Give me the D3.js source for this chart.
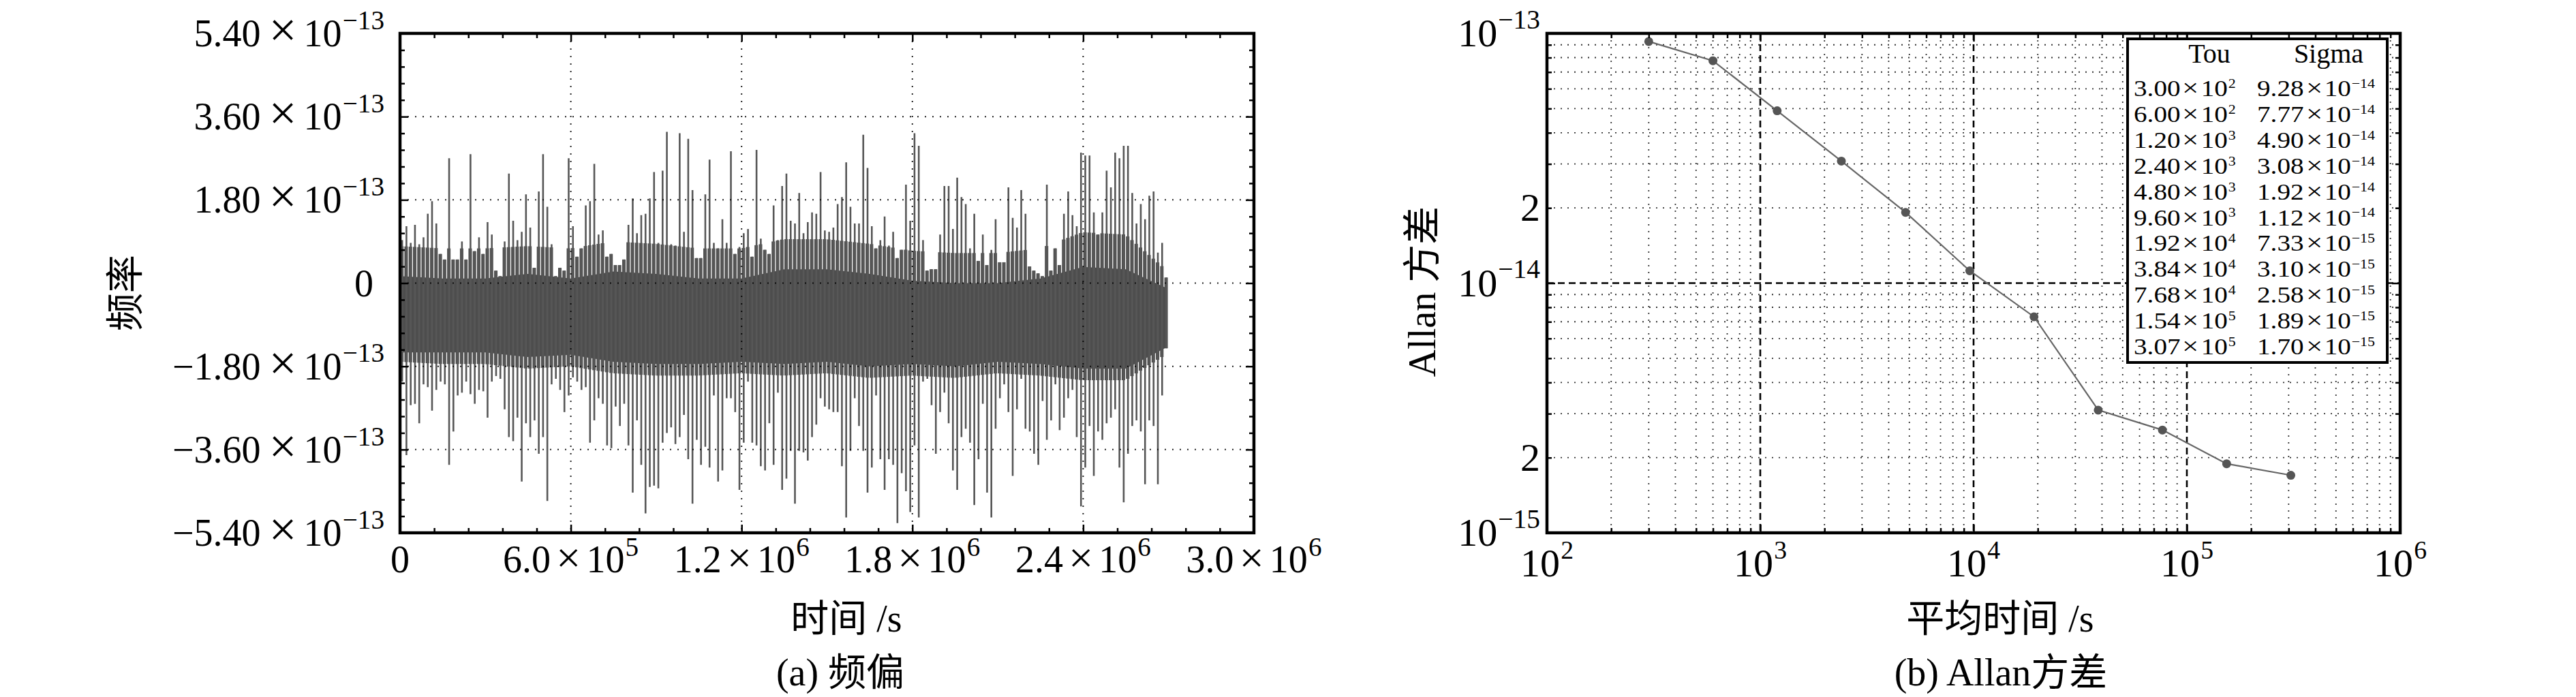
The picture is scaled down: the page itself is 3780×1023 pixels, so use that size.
<!DOCTYPE html>
<html>
<head>
<meta charset="utf-8">
<script src="https://cdn.jsdelivr.net/npm/d3@7/dist/d3.min.js"></script>
<style>
  html, body { margin:0; padding:0; background:#fff; }
  svg { display:block; }
  text { font-family: "Liberation Serif", "Noto Sans CJK SC", serif; fill:#000; }
</style>
</head>
<body>
<svg id="chart" width="3780" height="1023" xmlns="http://www.w3.org/2000/svg"></svg>
<script>
// ================= DATA =================
// (a) 频偏 : frequency offset record (units of 1e-13), extremes read per 1.5e4 s slot
const binStep = 1.5e4;
const freqHigh = [
  0.93, 1.23, 0.87, 1.26, 0.84, 0.99, 1.50, 1.77, 1.29, 0.63,
  0.51, 2.70, 0.51, 0.51, 0.90, 0.51, 2.79, 0.69, 0.99, 0.63,
  1.32, 1.05, 0.27, 0.15, 0.90, 2.37, 1.35, 0.93, 1.11, 1.92,
  1.20, 0.33, 1.98, 2.79, 1.65, 0.84, 0.15, 0.33, 0.27, 2.70,
  1.23, 0.57, 0.75, 1.68, 1.77, 2.58, 1.05, 1.14, 0.57, 0.63,
  0.39, 0.39, 0.51, 1.26, 1.83, 1.08, 1.47, 1.50, 1.83, 2.40,
  0.87, 2.43, 3.27, 0.84, 0.81, 3.24, 1.11, 3.12, 2.01, 0.54,
  0.54, 1.92, 2.67, 0.87, 0.75, 1.38, 0.87, 2.85, 0.63, 0.78,
  1.08, 1.17, 0.57, 2.88, 0.96, 0.72, 0.63, 1.68, 0.93, 2.10,
  2.37, 1.35, 1.29, 1.95, 1.08, 1.32, 1.53, 1.50, 2.40, 1.14,
  1.11, 1.20, 1.71, 1.86, 2.61, 1.65, 1.29, 1.29, 3.21, 2.49,
  1.23, 0.75, 0.93, 1.44, 0.81, 1.11, 0.54, 0.72, 2.13, 1.35,
  3.24, 2.97, 0.93, 0.27, 0.30, 0.30, 1.05, 2.10, 2.10, 1.17,
  2.28, 1.86, 1.71, 0.75, 1.50, 0.48, 1.05, 0.39, 0.72, 1.38,
  0.45, 0.45, 2.07, 1.41, 1.20, 2.01, 1.50, 0.36, 0.27, 0.21,
  0.15, 2.13, 0.27, 0.75, 0.39, 1.50, 1.98, 1.47, 1.23, 2.82,
  2.76, 2.76, 1.53, 1.05, 1.53, 2.43, 2.07, 2.82, 2.70, 2.97,
  2.97, 1.95, 1.29, 1.71, 1.38, 1.89, 1.98, 0.66, 0.87, 0.12
];
const freqLow = [
  -2.13, -3.72, -2.64, -2.61, -3.03, -2.19, -2.25, -2.76, -2.31, -2.13,
  -2.19, -3.93, -3.21, -2.43, -2.37, -2.13, -2.40, -2.61, -2.31, -2.34,
  -2.91, -2.13, -2.01, -2.07, -2.73, -3.33, -3.42, -2.91, -4.29, -3.03,
  -3.33, -2.97, -3.69, -3.33, -4.71, -2.19, -2.07, -2.31, -2.79, -2.43,
  -2.04, -2.13, -2.31, -2.25, -3.45, -2.97, -2.49, -2.61, -3.51, -3.57,
  -2.67, -3.09, -2.61, -3.51, -4.53, -2.97, -3.93, -4.98, -4.41, -4.38,
  -4.44, -3.45, -3.24, -3.12, -3.48, -3.33, -2.85, -3.81, -4.77, -3.39,
  -3.93, -3.54, -3.99, -2.43, -4.29, -4.05, -2.49, -2.49, -2.79, -4.47,
  -3.45, -2.13, -3.45, -3.51, -3.96, -4.05, -3.03, -3.93, -2.37, -4.47,
  -4.23, -3.63, -4.77, -3.63, -3.66, -3.84, -3.33, -3.06, -2.49, -2.67,
  -2.73, -2.79, -2.79, -3.96, -5.07, -3.63, -2.49, -3.09, -3.63, -4.53,
  -3.99, -2.43, -3.81, -4.47, -3.81, -3.93, -5.19, -4.11, -4.50, -4.95,
  -3.51, -5.07, -2.13, -2.07, -2.64, -3.69, -2.79, -2.37, -3.03, -4.05,
  -4.47, -3.33, -3.15, -3.45, -4.80, -3.81, -2.61, -4.53, -5.07, -3.15,
  -2.49, -2.19, -2.79, -4.17, -2.73, -2.07, -3.15, -3.21, -3.69, -3.93,
  -2.55, -3.39, -2.97, -2.19, -3.18, -2.91, -2.49, -2.31, -3.33, -4.83,
  -3.99, -3.09, -4.17, -3.21, -3.39, -3.03, -2.91, -2.73, -3.99, -4.74,
  -3.69, -3.09, -2.97, -3.21, -4.35, -2.97, -3.09, -4.35, -2.43, -1.41
];
// envelope of the dense band (units of 1e-13), read every 1.5e5 s
const coreTime  = [0, 1.5e5, 3.0e5, 4.5e5, 6.0e5, 7.5e5, 9.0e5, 1.05e6, 1.2e6, 1.35e6,
                   1.5e6, 1.65e6, 1.8e6, 1.95e6, 2.1e6, 2.25e6, 2.4e6, 2.55e6, 2.69e6];
const coreHigh  = [0.80, 0.75, 0.75, 0.80, 0.75, 0.90, 0.85, 0.75, 0.75, 0.95,
                   0.95, 0.85, 0.70, 0.65, 0.65, 0.75, 1.10, 1.05, 0.30];
const coreLow   = [-1.70, -1.75, -1.75, -1.85, -1.80, -1.95, -2.00, -2.00, -1.95, -2.00,
                   -1.95, -2.05, -2.00, -2.05, -1.95, -2.00, -2.10, -2.10, -1.55];
// fully solid part of the band
const solidHigh = [0.15, 0.10, 0.10, 0.20, 0.10, 0.25, 0.20, 0.10, 0.10, 0.30,
                   0.30, 0.20, 0.05, 0.00, 0.00, 0.10, 0.35, 0.30, -0.10];
const solidLow  = [-1.50, -1.50, -1.50, -1.60, -1.55, -1.70, -1.75, -1.75, -1.70, -1.75,
                   -1.70, -1.80, -1.75, -1.80, -1.70, -1.75, -1.85, -1.85, -1.40];
const xTicksA = [0, 6e5, 1.2e6, 1.8e6, 2.4e6, 3.0e6];
const yTicksA = [-5.4, -3.6, -1.8, 0, 1.8, 3.6, 5.4];      // ×1e-13
const yExpA = "\u221213";

// (b) Allan方差
const tau   = [300, 600, 1200, 2400, 4800, 9600, 19200, 38400, 76800, 153600, 307200];
const sigma = [9.28e-14, 7.77e-14, 4.90e-14, 3.08e-14, 1.92e-14, 1.12e-14,
               7.33e-15, 3.10e-15, 2.58e-15, 1.89e-15, 1.70e-15];
const xTicksB = [1e2, 1e3, 1e4, 1e5, 1e6];
const yTicksB = [1e-15, 2e-15, 1e-14, 2e-14, 1e-13];
const tableHeader = ["Tou", "Sigma"];

const labelsA = { x: "时间 /s", y: "频率", caption: "(a) 频偏" };
const labelsB = { x: "平均时间 /s", y: "Allan 方差", caption: "(b) Allan方差" };

// ================= LAYOUT =================
const svg = d3.select("#chart");
const A = { l: 587, r: 1840, t: 49, b: 782 };
const B = { l: 2270, r: 3522, t: 49, b: 782 };
const FS = 56;

const xA = d3.scaleLinear().domain([0, 3e6]).range([A.l, A.r]);
const yA = d3.scaleLinear().domain([-5.4, 5.4]).range([A.b, A.t]);
const xB = d3.scaleLog().domain([1e2, 1e6]).range([B.l, B.r]);
const yB = d3.scaleLog().domain([1e-15, 1e-13]).range([B.b, B.t]);

const MINUS = "\u2212";

function sciLabel(g, x, y, mant, exp, fs, anchor, opt = {}) {
  const t = g.append("text").attr("x", x).attr("y", y)
    .attr("font-size", fs).attr("text-anchor", anchor);
  if (opt.transform) t.attr("transform", opt.transform);
  if (mant !== null) t.append("tspan").text(mant);
  if (exp !== null) {
    if (mant !== null) {
      t.append("tspan").attr("dx", opt.xgap ?? fs * 0.14)
        .attr("font-size", fs * (opt.xs ?? 1.15)).text("×");
    }
    t.append("tspan").attr("dx", mant !== null ? (opt.tgap ?? fs * 0.1) : 0)
      .attr("font-size", fs).text("10");
    t.append("tspan").attr("dy", -fs * (opt.up ?? 0.45)).attr("dx", fs * 0.02)
      .attr("font-size", fs * (opt.ss ?? 0.7)).text(exp);
  }
  return t;
}

function tickAxis(g, axisFn, scale, values, size) {
  g.call(axisFn(scale).tickValues(values).tickSizeInner(-size).tickSizeOuter(0).tickFormat(""));
  g.select(".domain").remove();
  g.selectAll(".tick line").attr("stroke", "#000").attr("stroke-width", 2.5);
}

// ================= PANEL A =================
const gA = svg.append("g");
const cHi = d3.scaleLinear().domain(coreTime).range(coreHigh);
const cLo = d3.scaleLinear().domain(coreTime).range(coreLow);
const slotW = xA(binStep) - xA(0);
const slotT = i => i * binStep + binStep / 2;

// solid band
const solidArea = d3.area()
  .x((d, i) => xA(coreTime[i]))
  .y0((d, i) => yA(solidLow[i]))
  .y1((d, i) => yA(solidHigh[i]));
gA.append("path").datum(coreTime).attr("d", solidArea).attr("fill", "#4d4d4d");

// dense fringe of each slot
gA.append("g").selectAll("rect").data(freqHigh).join("rect")
  .attr("x", (d, i) => xA(i * binStep) + 0.2)
  .attr("width", slotW * 0.8)
  .attr("y", (d, i) => yA(Math.min(d, cHi(slotT(i)))))
  .attr("height", (d, i) => yA(Math.max(freqLow[i], cLo(slotT(i)))) - yA(Math.min(d, cHi(slotT(i)))))
  .attr("fill", "#4f4f4f");

// extreme excursions of each slot
gA.append("g").selectAll("line").data(freqHigh).join("line")
  .attr("x1", (d, i) => xA(slotT(i)))
  .attr("x2", (d, i) => xA(slotT(i)))
  .attr("y1", (d, i) => yA(freqLow[i]))
  .attr("y2", d => yA(d))
  .attr("stroke", "#575757").attr("stroke-width", 2.6);

// grid (on top, dotted)
const gridA = gA.append("g").attr("stroke", "#000").attr("stroke-width", 2)
  .attr("stroke-dasharray", "2,9").attr("opacity", 0.85);
gridA.selectAll("line.v").data(xTicksA.slice(1, -1)).join("line")
  .attr("x1", d => xA(d)).attr("x2", d => xA(d)).attr("y1", A.t).attr("y2", A.b);
gridA.selectAll("line.h").data(yTicksA.slice(1, -1)).join("line")
  .attr("x1", A.l).attr("x2", A.r).attr("y1", d => yA(d)).attr("y2", d => yA(d));

// ticks
const minorXA = d3.range(0, 3e6 + 1, 1.2e5).filter(v => !xTicksA.includes(v));
const minorYA = d3.range(-5.4, 5.41, 0.36).filter(v => yTicksA.every(t => Math.abs(t - v) > 1e-6));
tickAxis(gA.append("g").attr("transform", `translate(0,${A.b})`), d3.axisBottom, xA, xTicksA, 12);
tickAxis(gA.append("g").attr("transform", `translate(0,${A.b})`), d3.axisBottom, xA, minorXA, 7);
tickAxis(gA.append("g").attr("transform", `translate(0,${A.t})`), d3.axisTop, xA, xTicksA, 12);
tickAxis(gA.append("g").attr("transform", `translate(0,${A.t})`), d3.axisTop, xA, minorXA, 7);
tickAxis(gA.append("g").attr("transform", `translate(${A.l},0)`), d3.axisLeft, yA, yTicksA, 12);
tickAxis(gA.append("g").attr("transform", `translate(${A.l},0)`), d3.axisLeft, yA, minorYA, 7);
tickAxis(gA.append("g").attr("transform", `translate(${A.r},0)`), d3.axisRight, yA, yTicksA, 12);
tickAxis(gA.append("g").attr("transform", `translate(${A.r},0)`), d3.axisRight, yA, minorYA, 7);

gA.append("rect").attr("x", A.l).attr("y", A.t).attr("width", A.r - A.l).attr("height", A.b - A.t)
  .attr("fill", "none").attr("stroke", "#000").attr("stroke-width", 4.5);

// tick labels
xTicksA.forEach(v => {
  if (v === 0) {
    gA.append("text").attr("x", xA(v)).attr("y", 840).attr("font-size", FS)
      .attr("text-anchor", "middle").text("0");
  } else {
    const [m, e] = d3.format(".1e")(v).split("e");
    sciLabel(gA, xA(v), 840, m, String(+e), FS, "middle", { xgap: 8, tgap: 8, up: 0.42 });
  }
});
yTicksA.forEach(v => {
  if (v === 0) {
    gA.append("text").attr("x", 548).attr("y", yA(v) + 19).attr("font-size", FS)
      .attr("text-anchor", "end").text("0");
  } else {
    const m = (v < 0 ? MINUS : "") + Math.abs(v).toFixed(2);
    sciLabel(gA, 564, yA(v) + 19, m, yExpA, FS, "end", { xgap: 12, tgap: 10, xs: 1.3 });
  }
});

// axis titles
gA.append("text").attr("x", 1242).attr("y", 927).attr("font-size", FS)
  .attr("text-anchor", "middle").text(labelsA.x);
gA.append("text").attr("transform", "translate(203,430) rotate(-90)")
  .attr("font-size", FS).attr("text-anchor", "middle").text(labelsA.y);
gA.append("text").attr("x", 1233).attr("y", 1006).attr("font-size", FS)
  .attr("text-anchor", "middle").text(labelsA.caption);

// ================= PANEL B =================
const gB = svg.append("g");
const decadesX = [1e2, 1e3, 1e4, 1e5];
const minorXB = decadesX.flatMap(d => d3.range(2, 10).map(m => d * m));
const decadesY = [1e-15, 1e-14];
const minorYB = decadesY.flatMap(d => d3.range(2, 10).map(m => d * m));
const majorXGrid = [1e3, 1e4, 1e5];
const majorYGrid = [1e-14];

const gridB = gB.append("g");
gridB.append("g").attr("stroke", "#000").attr("stroke-width", 1.8).attr("stroke-dasharray", "2,8")
  .attr("opacity", 0.8)
  .call(s => {
    s.selectAll("line.v").data(minorXB).join("line")
      .attr("x1", d => xB(d)).attr("x2", d => xB(d)).attr("y1", B.t).attr("y2", B.b);
    s.selectAll("line.h").data(minorYB).join("line")
      .attr("x1", B.l).attr("x2", B.r).attr("y1", d => yB(d)).attr("y2", d => yB(d));
  });
gridB.append("g").attr("stroke", "#000").attr("stroke-width", 2.6).attr("stroke-dasharray", "10,6")
  .call(s => {
    s.selectAll("line.v").data(majorXGrid).join("line")
      .attr("x1", d => xB(d)).attr("x2", d => xB(d)).attr("y1", B.t).attr("y2", B.b);
    s.selectAll("line.h").data(majorYGrid).join("line")
      .attr("x1", B.l).attr("x2", B.r).attr("y1", d => yB(d)).attr("y2", d => yB(d));
  });

// data line + markers
const lineB = d3.line().x((d, i) => xB(tau[i])).y(d => yB(d));
gB.append("path").datum(sigma).attr("d", lineB).attr("fill", "none")
  .attr("stroke", "#666").attr("stroke-width", 2.2);
gB.append("g").selectAll("circle").data(sigma).join("circle")
  .attr("cx", (d, i) => xB(tau[i])).attr("cy", d => yB(d)).attr("r", 6.5).attr("fill", "#555");

// ticks
const majorXB = xTicksB;
const majorYB = [1e-15, 1e-14, 1e-13];
tickAxis(gB.append("g").attr("transform", `translate(0,${B.b})`), d3.axisBottom, xB, majorXB, 12);
tickAxis(gB.append("g").attr("transform", `translate(0,${B.b})`), d3.axisBottom, xB, minorXB, 7);
tickAxis(gB.append("g").attr("transform", `translate(0,${B.t})`), d3.axisTop, xB, majorXB, 12);
tickAxis(gB.append("g").attr("transform", `translate(0,${B.t})`), d3.axisTop, xB, minorXB, 7);
tickAxis(gB.append("g").attr("transform", `translate(${B.l},0)`), d3.axisLeft, yB, majorYB, 12);
tickAxis(gB.append("g").attr("transform", `translate(${B.l},0)`), d3.axisLeft, yB, minorYB, 7);
tickAxis(gB.append("g").attr("transform", `translate(${B.r},0)`), d3.axisRight, yB, majorYB, 12);
tickAxis(gB.append("g").attr("transform", `translate(${B.r},0)`), d3.axisRight, yB, minorYB, 7);

gB.append("rect").attr("x", B.l).attr("y", B.t).attr("width", B.r - B.l).attr("height", B.b - B.t)
  .attr("fill", "none").attr("stroke", "#000").attr("stroke-width", 4.5);

// tick labels
xTicksB.forEach(v => {
  sciLabel(gB, xB(v), 846, null, String(Math.round(Math.log10(v))), 58, "middle", { up: 0.45, ss: 0.65 });
});
yTicksB.forEach(v => {
  const e = Math.floor(Math.log10(v) + 1e-9);
  const m = Math.round(v / Math.pow(10, e));
  if (m === 1) {
    sciLabel(gB, 2260, yB(v) + 19, null, (e < 0 ? MINUS : "") + Math.abs(e), 58, "end", { up: 0.45, ss: 0.68 });
  } else {
    gB.append("text").attr("x", 2260).attr("y", yB(v) + 19).attr("font-size", 58)
      .attr("text-anchor", "end").text(String(m));
  }
});

// table legend
const T = { l: 3122, t: 57, r: 3503, b: 532 };
gB.append("rect").attr("x", T.l).attr("y", T.t).attr("width", T.r - T.l).attr("height", T.b - T.t)
  .attr("fill", "#fff").attr("stroke", "#000").attr("stroke-width", 4);
gB.append("text").attr("x", 3242).attr("y", 92).attr("font-size", 40)
  .attr("text-anchor", "middle").text(tableHeader[0]);
gB.append("text").attr("x", 3417).attr("y", 92).attr("font-size", 40)
  .attr("text-anchor", "middle").text(tableHeader[1]);
function splitSci(v) {
  const [m, e] = d3.format(".2e")(v).split("e");
  const ei = +e;
  return [m, (ei < 0 ? MINUS : "") + Math.abs(ei)];
}
const TFS = 33.5;
tau.forEach((t, i) => {
  const y = 141 + i * 37.9;
  const [m1, e1] = splitSci(t);
  sciLabel(gB, 0, 0, m1, e1, TFS, "start",
    { xgap: 2, tgap: 3, xs: 1.1, ss: 0.56, up: 0.36, transform: `translate(3131,${y}) scale(1.17,1)` });
  const [m2, e2] = splitSci(sigma[i]);
  sciLabel(gB, 0, 0, m2, e2, TFS, "start",
    { xgap: 3, tgap: 2, xs: 1.1, ss: 0.56, up: 0.36, transform: `translate(3312,${y}) scale(1.17,1)` });
});

// axis titles
gB.append("text").attr("x", 2935).attr("y", 927).attr("font-size", FS)
  .attr("text-anchor", "middle").text(labelsB.x);
gB.append("text").attr("transform", "translate(2106,428) rotate(-90)")
  .attr("font-size", FS).attr("text-anchor", "middle").text(labelsB.y);
gB.append("text").attr("x", 2936).attr("y", 1006).attr("font-size", FS)
  .attr("text-anchor", "middle").text(labelsB.caption);
</script>
</body>
</html>
